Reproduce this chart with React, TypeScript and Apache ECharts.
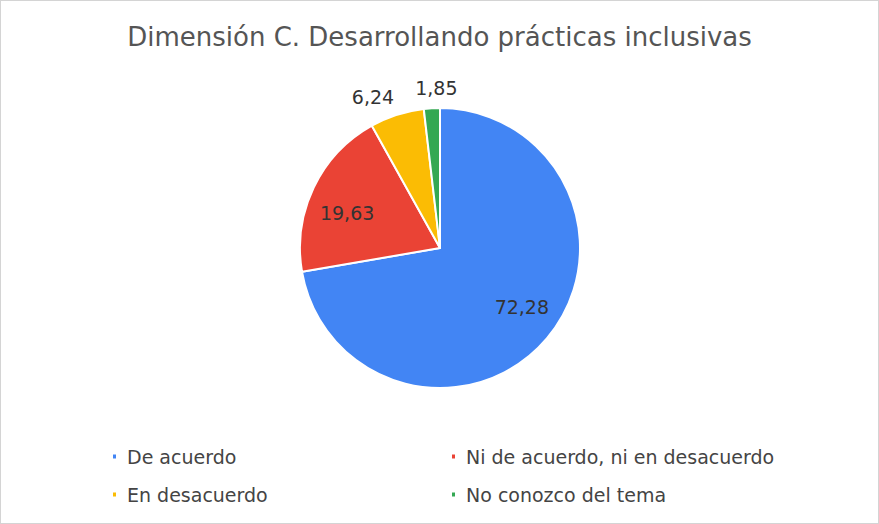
import React, { useEffect, useRef } from "react";
import * as echarts from "echarts";

const titleText = "Dimensión C. Desarrollando prácticas inclusivas";
const categories = [
  "De acuerdo",
  "Ni de acuerdo, ni en desacuerdo",
  "En desacuerdo",
  "No conozco del tema",
];
const values = [72.28, 19.63, 6.24, 1.85];
const colors = ["#4285F4", "#EA4335", "#FBBC04", "#34A853"];
const labelInside = [true, true, false, false];
const labelOffsets = [
  [26, 12],
  [-27, -4],
  [4, -12],
  [31, -14],
];

const FONT = "'DejaVu Sans', sans-serif";

export default function App() {
  const ref = useRef<HTMLDivElement>(null);
  useEffect(() => {
    if (!ref.current) return;
    const chart = echarts.init(ref.current, null, { renderer: "svg" });
    const data = categories.map((name, i) => ({
      name,
      value: values[i],
      itemStyle: { color: colors[i] },
      label: {
        position: labelInside[i] ? "inside" : "outside",
        offset: labelOffsets[i],
      },
    }));
    const legendText = {
      fontFamily: FONT,
      fontSize: 19,
      color: "#444444",
      padding: [0, 0, 0, 5],
    };
    chart.setOption({
      animation: false,
      backgroundColor: "#ffffff",
      textStyle: { fontFamily: FONT },
      title: {
        text: titleText,
        left: "center",
        top: 18,
        textStyle: {
          fontFamily: FONT,
          fontSize: 26,
          fontWeight: "normal",
          color: "#555555",
        },
      },
      legend: [
        {
          orient: "vertical",
          left: 110,
          top: 446,
          padding: 0,
          itemGap: 19,
          itemWidth: 5,
          itemHeight: 6,
          icon: "rect",
          data: [categories[0], categories[2]],
          textStyle: legendText,
        },
        {
          orient: "vertical",
          left: 449,
          top: 446,
          padding: 0,
          itemGap: 19,
          itemWidth: 5,
          itemHeight: 6,
          icon: "rect",
          data: [categories[1], categories[3]],
          textStyle: legendText,
        },
      ],
      series: [
        {
          type: "pie",
          center: [439, 247],
          radius: 140,
          startAngle: 90,
          clockwise: true,
          avoidLabelOverlap: false,
          itemStyle: { borderColor: "#ffffff", borderWidth: 2 },
          label: {
            show: true,
            fontFamily: FONT,
            fontSize: 19,
            color: "#333333",
            formatter: (p: any) => String(p.value).replace(".", ","),
          },
          labelLine: { show: false, length: 6, length2: 0 },
          emphasis: { disabled: true },
          data,
        },
      ],
    });
    return () => chart.dispose();
  }, []);
  return (
    <div
      style={{
        position: "absolute",
        left: 0,
        top: 0,
        width: 879,
        height: 524,
        boxSizing: "border-box",
        border: "1px solid #d4d4d4",
        background: "#fff",
      }}
    >
      <div ref={ref} style={{ width: 877, height: 522 }} />
    </div>
  );
}
